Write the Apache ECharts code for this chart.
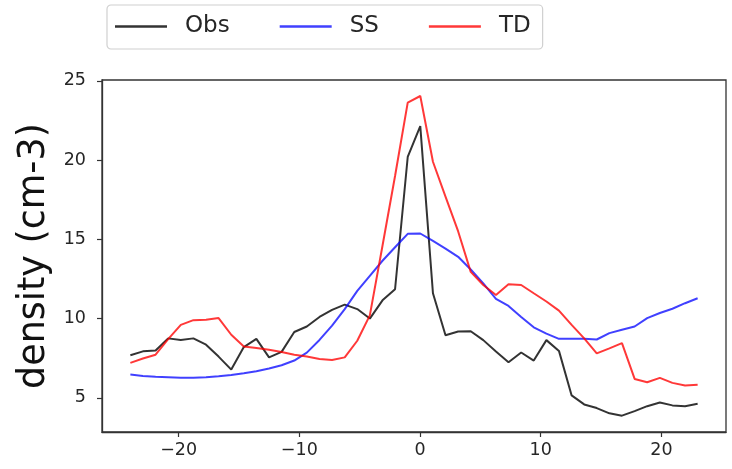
<!DOCTYPE html>
<html>
<head>
<meta charset="utf-8">
<script src="https://cdn.jsdelivr.net/npm/echarts@6/dist/echarts.min.js"></script>
<style>
  html, body { margin: 0; padding: 0; background: #fff; }
  #chart { width: 732px; height: 469px; }
</style>
</head>
<body>
<div id="chart"></div>
<script>
// Hours relative to the event (46 samples from -24 to 23)
const hours = [-24, -22.96, -21.91, -20.87, -19.82, -18.78, -17.73, -16.69, -15.64, -14.6,
  -13.56, -12.51, -11.47, -10.42, -9.38, -8.33, -7.29, -6.24, -5.2, -4.16,
  -3.11, -2.07, -1.02, 0.02, 1.07, 2.11, 3.16, 4.2, 5.24, 6.29,
  7.33, 8.38, 9.42, 10.47, 11.51, 12.56, 13.6, 14.64, 15.69, 16.73,
  17.78, 18.82, 19.87, 20.91, 21.96, 23];

// Observed density
const obs = [7.68, 7.93, 7.98, 8.75, 8.65, 8.75, 8.35, 7.6, 6.78, 8.2,
  8.72, 7.55, 7.9, 9.15, 9.5, 10.1, 10.55, 10.88, 10.6, 10.0,
  11.15, 11.85, 20.2, 22.15, 11.6, 8.95, 9.18, 9.2, 8.64, 7.92,
  7.24, 7.86, 7.35, 8.64, 7.96, 5.15, 4.58, 4.35, 4.02, 3.87,
  4.16, 4.47, 4.7, 4.52, 4.47, 4.62];

// SS model density
const ss = [6.47, 6.38, 6.32, 6.29, 6.26, 6.27, 6.3, 6.36, 6.44, 6.55,
  6.68, 6.85, 7.05, 7.35, 7.85, 8.65, 9.55, 10.6, 11.75, 12.7,
  13.65, 14.5, 15.35, 15.37, 14.9, 14.42, 13.9, 13.1, 12.22, 11.25,
  10.8, 10.1, 9.45, 9.05, 8.72, 8.72, 8.72, 8.68, 9.08, 9.3,
  9.5, 10.03, 10.35, 10.62, 10.97, 11.28];

// TD model density
const td = [7.2, 7.48, 7.72, 8.7, 9.6, 9.9, 9.92, 10.03, 8.98, 8.24,
  8.14, 8.03, 7.89, 7.72, 7.6, 7.45, 7.38, 7.55, 8.6, 10.2,
  14.6, 19.0, 23.63, 24.05, 19.9, 17.7, 15.5, 12.95, 12.12, 11.49,
  12.17, 12.12, 11.6, 11.08, 10.5, 9.6, 8.75, 7.8, 8.12, 8.45,
  6.19, 5.98, 6.26, 5.94, 5.77, 5.82];

const xTicks = [-20, -10, 0, 10, 20];
const yTicks = [5, 10, 15, 20, 25];

const pairs = vals => hours.map((h, i) => [h, vals[i]]);

const FONT = 'DejaVu Sans';
const AXIS_COLOR = '#333';
const TEXT_COLOR = '#262626';

const chart = echarts.init(document.getElementById('chart'), null, { renderer: 'canvas' });

const lineSeries = (name, vals, color) => ({
  name,
  type: 'line',
  data: pairs(vals),
  showSymbol: false,
  symbol: 'none',
  smooth: false,
  lineStyle: { color, width: 2 },
  itemStyle: { color },
  emphasis: { disabled: true },
  z: 3
});

chart.setOption({
  animation: false,
  backgroundColor: '#fff',
  textStyle: { fontFamily: FONT },
  grid: {
    left: 102, right: 6, top: 80, bottom: 37,
    show: true, borderColor: AXIS_COLOR, borderWidth: 1.3,
    backgroundColor: 'transparent'
  },
  legend: {
    left: 107, top: 5,
    orient: 'horizontal',
    backgroundColor: '#fff',
    borderColor: '#d0d0d0', borderWidth: 1.2, borderRadius: 4,
    padding: [8, 12, 9, 8],
    itemWidth: 52, itemHeight: 2.5, itemGap: 50,
    icon: 'rect',
    selectedMode: false,
    textStyle: {
      fontFamily: FONT, fontSize: 23, color: TEXT_COLOR,
      lineHeight: 27, padding: [0, 0, 0, 13]
    },
    data: ['Obs', 'SS', 'TD']
  },
  xAxis: {
    type: 'value',
    min: -26.35, max: 25.35,
    splitLine: { show: false },
    axisLine: { show: true, onZero: false, lineStyle: { color: AXIS_COLOR, width: 1.3 } },
    axisTick: { show: true, customValues: xTicks, length: 5, lineStyle: { color: AXIS_COLOR, width: 1.2 } },
    axisLabel: {
      customValues: xTicks, margin: 9,
      fontFamily: FONT, fontSize: 17.5, color: TEXT_COLOR,
      formatter: v => String(v).replace('-', '\u2212')
    }
  },
  yAxis: {
    type: 'value',
    min: 2.84, max: 25.06,
    name: 'density (cm-3)',
    nameLocation: 'middle',
    nameGap: 47,
    nameRotate: 90,
    nameTextStyle: { fontFamily: FONT, fontSize: 36.5, color: '#111' },
    splitLine: { show: false },
    axisLine: { show: true, onZero: false, lineStyle: { color: AXIS_COLOR, width: 1.3 } },
    axisTick: { show: true, customValues: yTicks, length: 5, lineStyle: { color: AXIS_COLOR, width: 1.2 } },
    axisLabel: {
      customValues: yTicks, margin: 16,
      fontFamily: FONT, fontSize: 17.5, color: TEXT_COLOR
    }
  },
  series: [
    lineSeries('Obs', obs, 'rgba(0,0,0,0.8)'),
    lineSeries('SS', ss, 'rgba(0,0,255,0.75)'),
    lineSeries('TD', td, 'rgba(255,0,0,0.78)')
  ]
});
</script>
</body>
</html>
